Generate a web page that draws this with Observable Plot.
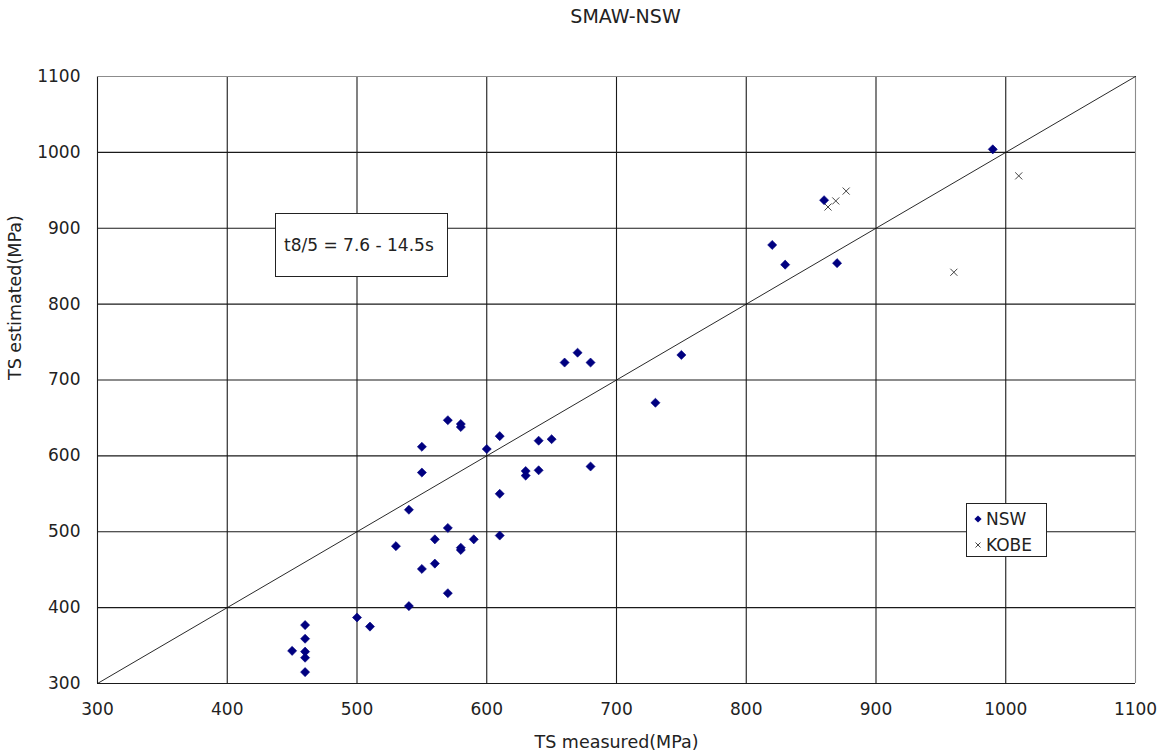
<!DOCTYPE html>
<html>
<head>
<meta charset="utf-8">
<script src="https://cdn.jsdelivr.net/npm/d3@7"></script>
<script src="https://cdn.jsdelivr.net/npm/@observablehq/plot@0.6"></script>
<style>
  body { margin: 0; background: #fff; }
  #wrap { position: relative; width: 1168px; height: 756px; font-family: "DejaVu Sans", sans-serif; color: #222; }
  #wrap > svg { position: absolute; left: 0; top: 0; }
  .box { position: absolute; background: #fff; border: 1px solid #222; box-sizing: border-box; font-size: 17px; }
  #note { left: 275px; top: 213px; width: 173px; height: 64px; line-height: 62px; padding-left: 8px; white-space: nowrap; }
  #legend { left: 966px; top: 503px; width: 81px; height: 54px; padding: 2px 0 0 7px; line-height: 26px; }
  #legend div { display: flex; align-items: center; }
  #legend svg { margin-right: 4px; }
</style>
</head>
<body>
<div id="wrap"></div>
<script>
// Measured vs. estimated tensile strength (MPa), SMAW welds
const nswMeasured = [450, 460, 460, 460, 460, 460, 500, 510, 530, 540, 540, 550, 550, 550, 560, 560,
  570, 570, 570, 580, 580, 580, 580, 590, 600, 610, 610, 610, 630, 630, 640, 640, 650,
  660, 670, 680, 680, 730, 750, 820, 830, 860, 870, 990];
const nswEstimated = [343, 377, 359, 342, 334, 315, 387, 375, 481, 402, 529, 451, 578, 612, 458, 490,
  419, 505, 647, 642, 638, 479, 476, 490, 609, 626, 550, 495, 580, 574, 620, 581, 622,
  723, 736, 723, 586, 670, 733, 878, 852, 937, 854, 1004];

const kobeMeasured = [863, 869, 877, 960, 1010];
const kobeEstimated = [928, 936, 949, 842, 969];

const axisTicks = [300, 400, 500, 600, 700, 800, 900, 1000, 1100];
const diagonal = [300, 1100];

const titleText = "SMAW-NSW";
const xLabel = "TS measured(MPa)";
const yLabel = "TS estimated(MPa)";
const noteText = "t8/5 = 7.6 - 14.5s";
const seriesNames = ["NSW", "KOBE"];

const nsw = nswMeasured.map((m, i) => ({measured: m, estimated: nswEstimated[i]}));
const kobe = kobeMeasured.map((m, i) => ({measured: m, estimated: kobeEstimated[i]}));

const innerTicks = axisTicks.slice(0, -1);
const outerTick = axisTicks.slice(-1);
const plain = d => String(d);

const chart = Plot.plot({
  width: 1168,
  height: 756,
  marginLeft: 97,
  marginRight: 33,
  marginTop: 76,
  marginBottom: 73,
  style: {fontFamily: "DejaVu Sans, sans-serif", fontSize: "17px", color: "#222", background: "white"},
  x: {domain: [300, 1100]},
  y: {domain: [300, 1100]},
  marks: [
    Plot.ruleX(innerTicks, {stroke: "#1a1a1a", strokeWidth: 1.1}),
    Plot.ruleY(innerTicks, {stroke: "#1a1a1a", strokeWidth: 1.1}),
    Plot.ruleX(outerTick, {stroke: "#8c8c8c", strokeWidth: 1.1}),
    Plot.ruleY(outerTick, {stroke: "#8c8c8c", strokeWidth: 1.1}),
    Plot.line(diagonal, {x: d => d, y: d => d, stroke: "#111", strokeWidth: 0.9}),
    Plot.axisX(axisTicks, {tickSize: 0, tickPadding: 19, tickFormat: plain, label: null, fontSize: 17, fill: "#222"}),
    Plot.axisY(axisTicks, {tickSize: 0, tickPadding: 17, tickFormat: plain, label: null, fontSize: 17, fill: "#222"}),
    Plot.dot(kobe, {x: "measured", y: "estimated", symbol: "times", r: 3.3, stroke: "#444", strokeWidth: 1}),
    Plot.dot(nsw, {x: "measured", y: "estimated", symbol: "diamond2", r: 4.1, fill: "#000080", stroke: "#000080", strokeWidth: 0.6}),
    Plot.text([titleText], {frameAnchor: "top", lineAnchor: "middle", dx: 9, dy: -60, fontSize: 19, fill: "#222"}),
    Plot.text([xLabel], {frameAnchor: "bottom", lineAnchor: "middle", dy: 59, fontSize: 17.5, fill: "#222"}),
    Plot.text([yLabel], {frameAnchor: "left", lineAnchor: "middle", dx: -82, rotate: -90, fontSize: 17.5, fill: "#222"})
  ]
});

const wrap = document.getElementById("wrap");
wrap.appendChild(chart);

// annotation box with the cooling-time range
const note = document.createElement("div");
note.className = "box";
note.id = "note";
note.textContent = noteText;
wrap.appendChild(note);

// series legend
const legend = document.createElement("div");
legend.className = "box";
legend.id = "legend";
const swatches = [
  `<svg width="8" height="10" viewBox="-4 -5 8 10"><path d="M0,-3.6L3.6,0L0,3.6L-3.6,0Z" fill="#000080"/></svg>`,
  `<svg width="8" height="10" viewBox="-4 -5 8 10"><path d="M-2.5,-2.5L2.5,2.5M-2.5,2.5L2.5,-2.5" stroke="#444" stroke-width="1"/></svg>`
];
seriesNames.forEach((name, i) => {
  const row = document.createElement("div");
  row.innerHTML = swatches[i] + `<span>${name}</span>`;
  legend.appendChild(row);
});
wrap.appendChild(legend);
</script>
</body>
</html>
